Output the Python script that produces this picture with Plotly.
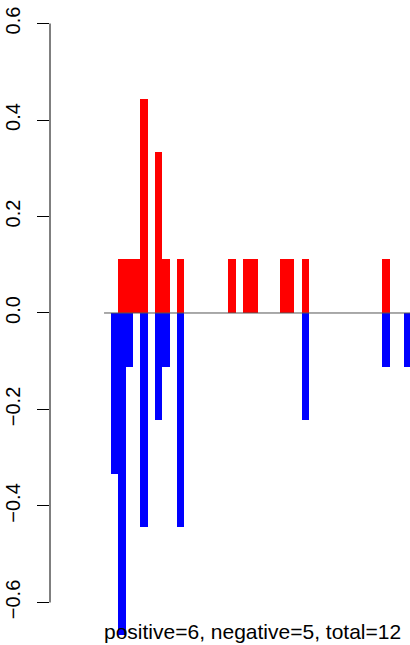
import plotly.graph_objects as go

# slot positions (1-based) and bar heights
pos_x = [2, 3, 4, 5, 7, 8, 10, 17, 19, 20, 24, 25, 27, 38]
pos_y = [0.111, 0.111, 0.111, 0.444, 0.333, 0.111, 0.111, 0.111, 0.111, 0.111, 0.111, 0.111, 0.111, 0.111]
neg_x = [1, 2, 3, 5, 7, 8, 10, 27, 38, 41]
neg_y = [-0.333, -0.667, -0.111, -0.444, -0.222, -0.111, -0.444, -0.222, -0.111, -0.111]

tick_vals = [-0.6, -0.4, -0.2, 0.0, 0.2, 0.4, 0.6]
tick_text = ["\u22120.6", "\u22120.4", "\u22120.2", "0.0", "0.2", "0.4", "0.6"]
caption = "positive=6, negative=5, total=12"

fig = go.Figure()
fig.add_trace(go.Bar(x=pos_x, y=pos_y, width=1, marker=dict(color="#FF0000", line=dict(width=0)), showlegend=False))
fig.add_trace(go.Bar(x=neg_x, y=neg_y, width=1, marker=dict(color="#0000FF", line=dict(width=0)), showlegend=False))

# zero line
fig.add_shape(type="line", xref="x", yref="y", x0=-0.45, x1=41.3, y0=0, y1=0,
              line=dict(color="#555555", width=1), layer="above")
# y axis line between first and last tick
fig.add_shape(type="line", xref="paper", yref="y", x0=0, x1=0, y0=-0.6, y1=0.6,
              line=dict(color="black", width=1))

fig.add_annotation(text=caption, xref="x", yref="paper", x=19.85, y=(645 - 631) / 645,
                   showarrow=False, font=dict(family="Liberation Sans", size=21, color="black"),
                   xanchor="center", yanchor="middle")

fig.update_layout(
    width=410, height=645,
    margin=dict(l=50, r=0, t=0, b=0, autoexpand=False),
    paper_bgcolor="white", plot_bgcolor="white",
    barmode="overlay", bargap=0,
    font=dict(family="Liberation Sans", color="black"),
    xaxis=dict(visible=False, range=[-7.822, 41.29], automargin=False),
    yaxis=dict(range=[-0.6881, 0.6487], tickmode="array", tickvals=tick_vals, ticktext=tick_text,
               ticks="outside", ticklen=12, tickwidth=1, tickcolor="black",
               showgrid=False, zeroline=False, showline=False, automargin=False,
               tickangle=-90, tickfont=dict(size=20, family="Liberation Sans"),
               ticklabelstandoff=9),
)
fig.write_html("out.html", config={"displayModeBar": False},
               post_script="document.body.style.margin='0';document.body.style.overflow='hidden';")
